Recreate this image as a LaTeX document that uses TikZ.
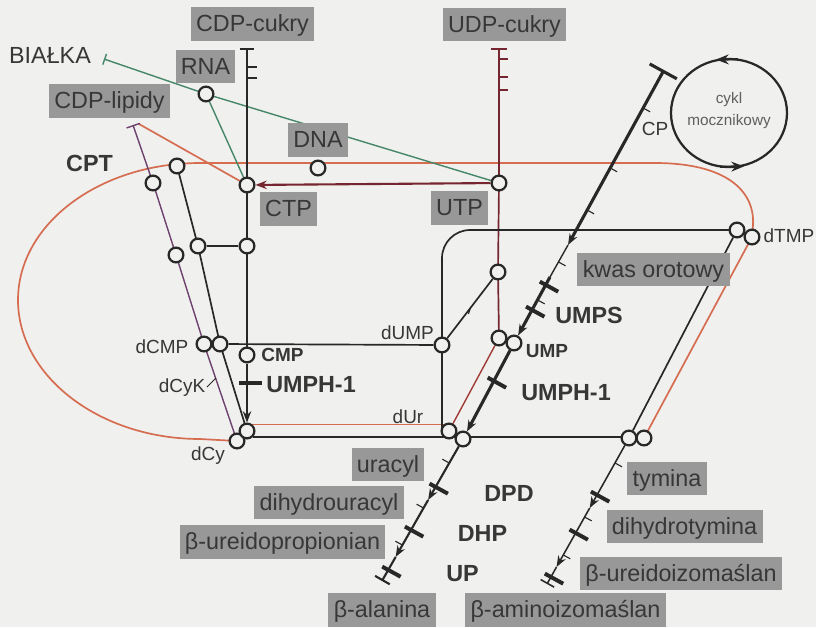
\documentclass[tikz,border=0pt]{standalone}
\usepackage{fontspec}
\setmainfont{Liberation Sans}
\usetikzlibrary{arrows.meta,calc}
\definecolor{bgc}{RGB}{240,240,238}
\definecolor{ink}{RGB}{40,40,40}
\definecolor{txt}{RGB}{55,55,55}
\definecolor{boxg}{RGB}{152,152,152}
\definecolor{orng}{RGB}{214,108,80}
\definecolor{marn}{RGB}{118,38,48}
\definecolor{redb}{RGB}{160,60,55}
\definecolor{grn}{RGB}{70,135,105}
\definecolor{purp}{RGB}{110,65,110}
\pgfdeclarelayer{back}
\pgfdeclarelayer{lines}
\pgfsetlayers{back,lines,main}
\tikzset{
  circ/.style={circle, draw=ink, fill=bgc, line width=1.6pt, minimum size=10.5pt, inner sep=0pt},
  lbox/.style={fill=boxg, text=txt, font=\fontsize{16.6pt}{19pt}\selectfont, inner xsep=3.8pt, inner ysep=0pt, text height=17.5pt, text depth=6.4pt},
  bigt/.style={text=txt, font=\fontsize{16.6pt}{19pt}\selectfont, inner sep=0pt, anchor=base},
  boldt/.style={text=txt, font=\fontsize{16.6pt}{19pt}\selectfont\bfseries, inner sep=0pt, anchor=base},
  smallt/.style={text=txt, font=\fontsize{13.5pt}{16pt}\selectfont, inner sep=0pt, anchor=base},
  smallb/.style={text=txt, font=\fontsize{13.5pt}{16pt}\selectfont\bfseries, inner sep=0pt, anchor=base},
  cyklt/.style={text=txt!80, font=\fontsize{10.9pt}{13pt}\selectfont, inner sep=0pt},
  blk/.style={draw=ink, line width=1.2pt},
  orl/.style={draw=orng, line width=1.2pt},
  purl/.style={draw=purp, line width=1pt},
  grl/.style={draw=grn, line width=1pt},
  marl/.style={draw=marn, line width=1.2pt},
  ebar/.style={draw=ink, line width=2.8pt},
  tickm/.style={draw=ink, line width=0.8pt},
  >={Stealth[length=8pt,width=6pt]}
}
\begin{document}
\begin{tikzpicture}[x=0.025cm,y=-0.025cm]
\useasboundingbox (0,0) rectangle (816,627);
\begin{pgfonlayer}{back}
\fill[bgc] (0,0) rectangle (816,627);
\end{pgfonlayer}

% ---------- circles ----------
\node[circ] (cCTP) at (247,185) {};
\node[circ] (cUTP) at (499,183) {};
\node[circ] (cRNA) at (206,94) {};
\node[circ] (cDNA) at (318,168) {};
\node[circ] (cL1) at (177,166) {};
\node[circ] (cP1) at (153,183) {};
\node[circ] (cP2) at (176,255) {};
\node[circ] (cL2) at (198,246) {};
\node[circ] (cV2) at (247,246) {};
\node[circ] (cdCMPa) at (204,344) {};
\node[circ] (cdCMPb) at (220,344) {};
\node[circ] (cCMP) at (247,355) {};
\node[circ] (cdCy) at (237,441) {};
\node[circ] (cB1) at (247,431) {};
\node[circ] (cdUMP) at (442,345) {};
\node[circ] (cU1) at (498,272) {};
\node[circ] (cUMPa) at (499,338) {};
\node[circ] (cUMPb) at (514,343) {};
\node[circ] (cdUr) at (449,431) {};
\node[circ] (cUra) at (463,439) {};
\node[circ] (cT1) at (629,438) {};
\node[circ] (cT2) at (644,438) {};
\node[circ] (cdTMPa) at (737,230) {};
\node[circ] (cdTMPb) at (752,237) {};

% ---------- boxed labels ----------
\node[lbox] (bCDPc) at (252.5,24) {CDP-cukry};
\node[lbox] (bUDPc) at (504.5,24.5) {UDP-cukry};
\node[lbox] (bRNA) at (205.5,66.5) {RNA};
\node[lbox] (bCDPl) at (109.5,101) {CDP-lipidy};
\node[lbox] (bDNA) at (318,140) {DNA};
\node[lbox] (bCTP) at (288.5,209) {CTP};
\node[lbox] (bUTP) at (459.5,208) {UTP};
\node[lbox] (bKwas) at (653.5,269.5) {kwas orotowy};
\node[lbox] (bUra) at (388,464.5) {uracyl};
\node[lbox] (bDhu) at (329,502.5) {dihydrouracyl};
\node[lbox] (bUrp) at (282.5,542) {β-ureidopropionian};
\node[lbox] (bAla) at (382,610) {β-alanina};
\node[lbox] (bAmi) at (565.5,610) {β-aminoizomaślan};
\node[lbox] (bTym) at (667,478.5) {tymina};
\node[lbox] (bDht) at (684.5,526.5) {dihydrotymina};
\node[lbox] (bUri) at (681,573.5) {β-ureidoizomaślan};

% ---------- plain labels ----------
\node[bigt] (lBia) at (50,63) {BIAŁKA};
\node[boldt] (lCPT) at (89.5,171) {CPT};
\node[boldt] (lUMPS) at (589,323) {UMPS};
\node[boldt] (lUMPH1) at (311,392) {UMPH-1};
\node[boldt] (lUMPH2) at (566,400) {UMPH-1};
\node[boldt] (lDPD) at (509,501) {DPD};
\node[boldt] (lDHP) at (482.5,541) {DHP};
\node[boldt] (lUP) at (462.5,581) {UP};
\node[smallb] (lCMP) at (282.5,361) {CMP};
\node[smallb] (lUMP) at (547,357) {UMP};
\node[smallt] (ldCMP) at (162,353) {dCMP};
\node[smallt] (ldUMP) at (407.5,339) {dUMP};
\node[smallt] (ldUr) at (408,423) {dUr};
\node[smallt] (ldCy) at (208,460) {dCy};
\node[smallt] (ldCyK) at (182,392) {dCyK};
\node[smallt] (ldTMP) at (789,242) {dTMP};
\node[smallt] (lCP) at (655,135) {CP};
\node[cyklt] (lCykl1) at (729,100) {cykl};
\node[cyklt] (lCykl2) at (729,122) {mocznikowy};

\begin{pgfonlayer}{lines}
% coordinates for free ends
\coordinate (tCDP) at (247,48);
\coordinate (tUDP) at (499,48);
\coordinate (tBIA) at (104,59);
\coordinate (tLIP) at (133,125);
\coordinate (tLIP2) at (139,124);
\coordinate (mTop) at (664,70);
\coordinate (mA1) at (568,245);
\coordinate (mK) at (550,277);
\coordinate (mA2) at (428.1,500);
\coordinate (mA3) at (395.6,557);
\coordinate (mBot) at (381.9,581);
\coordinate (tA1) at (589.7,508);
\coordinate (tA2) at (556.5,567);
\coordinate (tBot) at (547,584);

% orange loop
\draw[orl] (cdCy.center) -- (200,439) .. controls (99.5,439) and (18,376) .. (18,300)
  .. controls (18,224) and (99.5,163) .. (200,163) -- (655,163)
  .. controls (725,163) and (755,190) .. (753,225) -- (cdTMPb.center) -- (cT2.center);
\draw[orl] (cB1.50) -- (cdUr.130);
\draw[orl] (tLIP2) -- (cCTP);

% purple
\draw[purl, {Bar[width=10pt]}-] (tLIP) -- (cP1.center) -- (cP2.center) -- (cdCMPa.center) -- (cdCy.center);
\draw[draw=ink, line width=0.7pt] (207,387) -- (216,378);

% green
\draw[grl] (cUTP) -- (cRNA);
\draw[grl, -{Bar[width=8pt]}] (cRNA) -- (tBIA);
\draw[grl] (cRNA) -- (cCTP);

% CDP-cukry vertical
\draw[blk, {Bar[width=10.5pt]}-] (tCDP) -- (cCTP.center) -- (cV2.center) -- (cCMP.center);
\draw[blk, ->] (cCMP) -- (cB1);
\draw[ink, line width=2pt] (247,67) -- (257,67);
\draw[ink, line width=2pt] (247,78) -- (257,78);
\draw[ebar] (239,383) -- (262,383);

% UDP-cukry vertical
\draw[marl, {Bar[width=11pt]}-] (tUDP) -- (cUTP.center) -- (cU1.center) -- (cUMPa.center);
\draw[marn, line width=2pt] (499,59) -- (508,59);
\draw[marn, line width=2pt] (499,77) -- (508,77);
\draw[marn, line width=2pt] (499,90) -- (508,90);
\draw[marn, line width=1.5pt, ->] (cUTP) -- (cCTP);
\draw[draw=redb, line width=1pt] (cUMPa) -- (cdUr);

% black network
\draw[blk] (cL1.center) -- (cL2.center) -- (cdCMPb.center) -- (cB1.center);
\draw[blk] (cL2) -- (cV2);
\draw[blk] (cdCMPb) -- (cdUMP);
\draw[blk] (cdUMP) -- (cU1);
\draw[tickm] (470.4,308) -- ++(-2,6);
\draw[blk] (cB1.-45) -- (cB1.-45 -| cT1.center);
\draw[blk, rounded corners=20pt] (cdTMPa.center) -- (cdTMPa.center -| cdUMP.center) -- (cdUMP.center) -- (cdUMP.center |- cdUr.center);
\draw[blk] (cdTMPa) -- (cT1);

% main de novo line
\draw[ink, line width=2.2pt, {Bar[width=22pt]}->] (mTop) -- (mA1);
\draw[ink, line width=1pt] (mA1) -- (mK);
\draw[ink, line width=2.2pt, ->] (mK) -- (cUMPb);
\draw[ink, line width=2.2pt, ->] (cUMPb) -- (cUra);
\draw[ink, line width=1.5pt, ->] (cUra) -- (mA2);
\draw[ink, line width=1.5pt, ->] (mA2) -- (mA3);
\draw[ink, line width=1.5pt, -{Bar[width=12pt]}] (mA3) -- (mBot);
% ticks upper (right side)
\foreach \p in {(643.1,108),(610.2,168),(587,210),(558.5,262),(537.6,300)}
  \draw[tickm] \p -- ++(7,3.8);
% ticks lower (left side)
\foreach \p in {(449.3,463),(423.6,508),(402.4,545)}
  \draw[tickm] \p -- ++(-7,-3.8);
% enzyme bars
\foreach \p in {(545.9,285),(532.1,310),(493.8,381),(435.6,487),(411,530),(388.3,570),(597,495),(575.6,533),(550.9,577)}
  \draw[ebar] \p ++(-6.1,-3.4) -- ++(18.4,10.1);

% thymine line
\draw[ink, line width=1.1pt, ->] (cT1) -- (tA1);
\draw[ink, line width=1.1pt, ->] (tA1) -- (tA2);
\draw[ink, line width=1.1pt, -{Bar[width=11pt]}] (tA2) -- (tBot);
\foreach \p in {(615,463),(584.6,517),(563.3,555)}
  \draw[tickm] \p -- ++(7,3.8);

% urea cycle
\draw[ink, line width=1.6pt] (729,113) ellipse [x radius=58, y radius=54];
\draw[ink, line width=1.6pt, -{Stealth[length=9pt,width=7pt]}] (738,59.2) -- (716,59.6);
\draw[ink, line width=1.6pt, -{Stealth[length=9pt,width=7pt]}] (720,166.8) -- (744,166.4);
\end{pgfonlayer}
\end{tikzpicture}
\end{document}
